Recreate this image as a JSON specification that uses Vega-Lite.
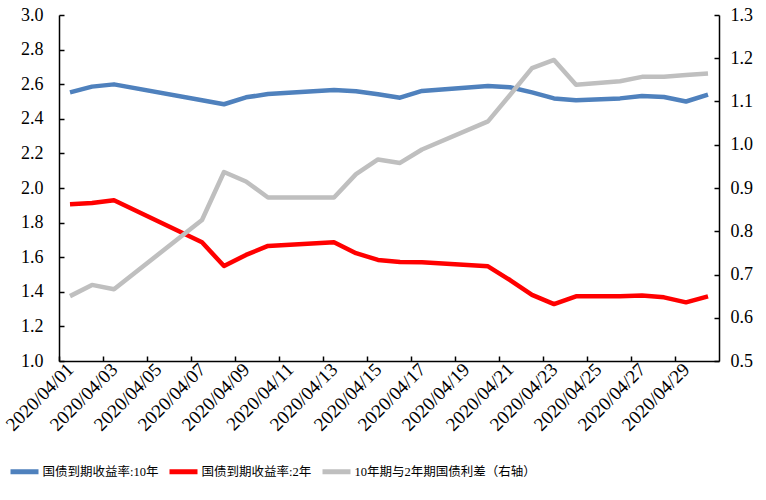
{
  "$schema": "https://vega.github.io/schema/vega-lite/v6.json",
  "width": 660,
  "height": 346,
  "autosize": "none",
  "padding": {"left": 59, "top": 15, "right": 47, "bottom": 139},
  "background": "white",
  "config": {
    "view": {"stroke": null},
    "font": "Liberation Serif",
    "axis": {
      "grid": false,
      "domainColor": "black",
      "domainWidth": 1.5,
      "tickColor": "black",
      "tickWidth": 1.5,
      "tickSize": -5,
      "labelColor": "black",
      "labelFont": "Liberation Serif",
      "labelFontSize": 18,
      "title": null
    }
  },
  "data": {
    "values": [
      {"date": "2020/04/01", "series": "国债到期收益率:10年", "value": 2.553},
      {"date": "2020/04/02", "series": "国债到期收益率:10年", "value": 2.586},
      {"date": "2020/04/03", "series": "国债到期收益率:10年", "value": 2.599},
      {"date": "2020/04/07", "series": "国债到期收益率:10年", "value": 2.507},
      {"date": "2020/04/08", "series": "国债到期收益率:10年", "value": 2.484},
      {"date": "2020/04/09", "series": "国债到期收益率:10年", "value": 2.524},
      {"date": "2020/04/10", "series": "国债到期收益率:10年", "value": 2.543},
      {"date": "2020/04/13", "series": "国债到期收益率:10年", "value": 2.566},
      {"date": "2020/04/14", "series": "国债到期收益率:10年", "value": 2.559},
      {"date": "2020/04/15", "series": "国债到期收益率:10年", "value": 2.542},
      {"date": "2020/04/16", "series": "国债到期收益率:10年", "value": 2.522},
      {"date": "2020/04/17", "series": "国债到期收益率:10年", "value": 2.561},
      {"date": "2020/04/20", "series": "国债到期收益率:10年", "value": 2.590},
      {"date": "2020/04/21", "series": "国债到期收益率:10年", "value": 2.582},
      {"date": "2020/04/22", "series": "国债到期收益率:10年", "value": 2.553},
      {"date": "2020/04/23", "series": "国债到期收益率:10年", "value": 2.518},
      {"date": "2020/04/24", "series": "国债到期收益率:10年", "value": 2.507},
      {"date": "2020/04/26", "series": "国债到期收益率:10年", "value": 2.518},
      {"date": "2020/04/27", "series": "国债到期收益率:10年", "value": 2.532},
      {"date": "2020/04/28", "series": "国债到期收益率:10年", "value": 2.526},
      {"date": "2020/04/29", "series": "国债到期收益率:10年", "value": 2.500},
      {"date": "2020/04/30", "series": "国债到期收益率:10年", "value": 2.540},
      {"date": "2020/04/01", "series": "国债到期收益率:2年", "value": 1.906},
      {"date": "2020/04/02", "series": "国债到期收益率:2年", "value": 1.913},
      {"date": "2020/04/03", "series": "国债到期收益率:2年", "value": 1.929},
      {"date": "2020/04/07", "series": "国债到期收益率:2年", "value": 1.686},
      {"date": "2020/04/08", "series": "国债到期收益率:2年", "value": 1.549},
      {"date": "2020/04/09", "series": "国债到期收益率:2年", "value": 1.613},
      {"date": "2020/04/10", "series": "国债到期收益率:2年", "value": 1.665},
      {"date": "2020/04/13", "series": "国债到期收益率:2年", "value": 1.686},
      {"date": "2020/04/14", "series": "国债到期收益率:2年", "value": 1.623},
      {"date": "2020/04/15", "series": "国债到期收益率:2年", "value": 1.584},
      {"date": "2020/04/16", "series": "国债到期收益率:2年", "value": 1.572},
      {"date": "2020/04/17", "series": "国债到期收益率:2年", "value": 1.571},
      {"date": "2020/04/20", "series": "国债到期收益率:2年", "value": 1.547},
      {"date": "2020/04/21", "series": "国债到期收益率:2年", "value": 1.468},
      {"date": "2020/04/22", "series": "国债到期收益率:2年", "value": 1.382},
      {"date": "2020/04/23", "series": "国债到期收益率:2年", "value": 1.329},
      {"date": "2020/04/24", "series": "国债到期收益率:2年", "value": 1.374},
      {"date": "2020/04/26", "series": "国债到期收益率:2年", "value": 1.374},
      {"date": "2020/04/27", "series": "国债到期收益率:2年", "value": 1.379},
      {"date": "2020/04/28", "series": "国债到期收益率:2年", "value": 1.368},
      {"date": "2020/04/29", "series": "国债到期收益率:2年", "value": 1.339},
      {"date": "2020/04/30", "series": "国债到期收益率:2年", "value": 1.374},
      {"date": "2020/04/01", "series": "10年期与2年期国债利差（右轴）", "value": 0.650},
      {"date": "2020/04/02", "series": "10年期与2年期国债利差（右轴）", "value": 0.676},
      {"date": "2020/04/03", "series": "10年期与2年期国债利差（右轴）", "value": 0.666},
      {"date": "2020/04/07", "series": "10年期与2年期国债利差（右轴）", "value": 0.826},
      {"date": "2020/04/08", "series": "10年期与2年期国债利差（右轴）", "value": 0.937},
      {"date": "2020/04/09", "series": "10年期与2年期国债利差（右轴）", "value": 0.915},
      {"date": "2020/04/10", "series": "10年期与2年期国债利差（右轴）", "value": 0.878},
      {"date": "2020/04/13", "series": "10年期与2年期国债利差（右轴）", "value": 0.878},
      {"date": "2020/04/14", "series": "10年期与2年期国债利差（右轴）", "value": 0.932},
      {"date": "2020/04/15", "series": "10年期与2年期国债利差（右轴）", "value": 0.966},
      {"date": "2020/04/16", "series": "10年期与2年期国债利差（右轴）", "value": 0.958},
      {"date": "2020/04/17", "series": "10年期与2年期国债利差（右轴）", "value": 0.989},
      {"date": "2020/04/20", "series": "10年期与2年期国债利差（右轴）", "value": 1.054},
      {"date": "2020/04/21", "series": "10年期与2年期国债利差（右轴）", "value": 1.115},
      {"date": "2020/04/22", "series": "10年期与2年期国债利差（右轴）", "value": 1.177},
      {"date": "2020/04/23", "series": "10年期与2年期国债利差（右轴）", "value": 1.196},
      {"date": "2020/04/24", "series": "10年期与2年期国债利差（右轴）", "value": 1.139},
      {"date": "2020/04/26", "series": "10年期与2年期国债利差（右轴）", "value": 1.147},
      {"date": "2020/04/27", "series": "10年期与2年期国债利差（右轴）", "value": 1.157},
      {"date": "2020/04/28", "series": "10年期与2年期国债利差（右轴）", "value": 1.157},
      {"date": "2020/04/29", "series": "10年期与2年期国债利差（右轴）", "value": 1.161},
      {"date": "2020/04/30", "series": "10年期与2年期国债利差（右轴）", "value": 1.165}
    ]
  },
  "encoding": {
    "x": {
      "field": "date",
      "type": "ordinal",
      "sort": null,
      "scale": {
        "domain": ["2020/04/01","2020/04/02","2020/04/03","2020/04/04","2020/04/05","2020/04/06","2020/04/07","2020/04/08","2020/04/09","2020/04/10","2020/04/11","2020/04/12","2020/04/13","2020/04/14","2020/04/15","2020/04/16","2020/04/17","2020/04/18","2020/04/19","2020/04/20","2020/04/21","2020/04/22","2020/04/23","2020/04/24","2020/04/25","2020/04/26","2020/04/27","2020/04/28","2020/04/29","2020/04/30"]
      },
      "axis": {
        "values": ["2020/04/01","2020/04/03","2020/04/05","2020/04/07","2020/04/09","2020/04/11","2020/04/13","2020/04/15","2020/04/17","2020/04/19","2020/04/21","2020/04/23","2020/04/25","2020/04/27","2020/04/29"],
        "labelAngle": -45,
        "labelAlign": "right",
        "labelBaseline": "middle",
        "labelFontSize": 19,
        "labelPadding": 10,
        "tickOffset": -11,
        "labelOffset": 11
      }
    },
    "color": {
      "field": "series",
      "type": "nominal",
      "scale": {
        "domain": ["国债到期收益率:10年", "国债到期收益率:2年", "10年期与2年期国债利差（右轴）"],
        "range": ["#4F81BD", "#FF0000", "#BFBFBF"]
      },
      "legend": {
        "orient": "none",
        "direction": "horizontal",
        "legendX": -51,
        "legendY": 440,
        "title": null,
        "symbolType": "stroke",
        "symbolSize": 784,
        "symbolStrokeWidth": 5,
        "labelFont": "Liberation Serif, Noto Sans CJK SC",
        "labelFontSize": 12.5,
        "labelColor": "black",
        "labelOffset": 1.5,
        "columnPadding": 0,
        "labelLimit": 400
      }
    }
  },
  "layer": [
    {
      "transform": [{"filter": "datum.series !== '10年期与2年期国债利差（右轴）'"}],
      "mark": {"type": "line", "strokeWidth": 4.5, "strokeJoin": "round"},
      "encoding": {
        "y": {
          "field": "value",
          "type": "quantitative",
          "scale": {"domain": [1, 3], "nice": false, "zero": false},
          "axis": {
            "orient": "left",
            "values": [1, 1.2, 1.4, 1.6, 1.8, 2, 2.2, 2.4, 2.6, 2.8, 3],
            "format": ".1f",
            "labelPadding": 21
          }
        }
      }
    },
    {
      "transform": [{"filter": "datum.series === '10年期与2年期国债利差（右轴）'"}],
      "mark": {"type": "line", "strokeWidth": 4.5, "strokeJoin": "round"},
      "encoding": {
        "y": {
          "field": "value",
          "type": "quantitative",
          "scale": {"domain": [0.5, 1.3], "nice": false, "zero": false},
          "axis": {
            "orient": "right",
            "values": [0.5, 0.6, 0.7, 0.8, 0.9, 1, 1.1, 1.2, 1.3],
            "format": ".1f",
            "labelPadding": 16
          }
        }
      }
    }
  ],
  "resolve": {"scale": {"y": "independent"}}
}
